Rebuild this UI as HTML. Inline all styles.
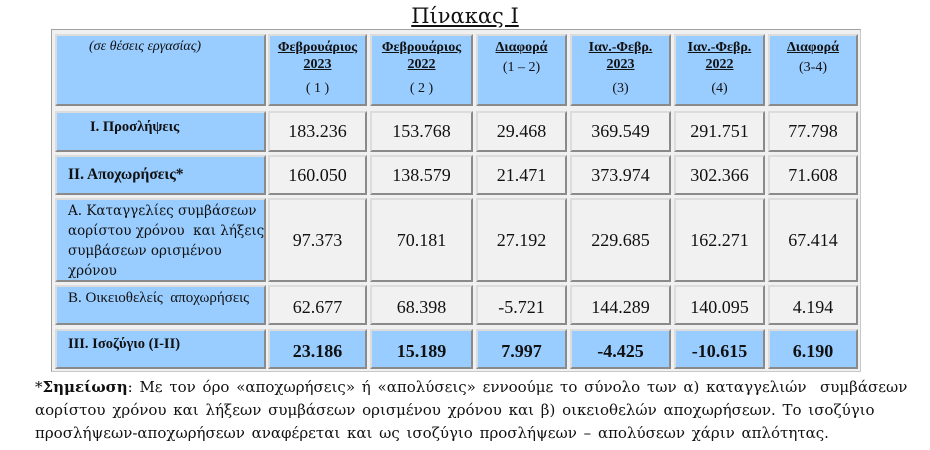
<!DOCTYPE html>
<html><head><meta charset="utf-8"><style>
body{margin:0;width:930px;height:450px;background:#fff;position:relative;overflow:hidden;font-family:"Liberation Serif","DejaVu Serif",serif;color:#111}
.t{position:absolute;left:51px;top:29px;width:810px;height:343px;border:1px solid #a0a0a0;border-right-color:#c8c8c8;border-bottom-color:#c8c8c8;background:#f0f0f0;box-sizing:border-box}
.c{position:absolute;box-sizing:border-box;border:2px solid #9a9a9a;border-top-color:#dcdcdc;border-left-color:#dcdcdc;border-right-color:#8a8a8a;border-bottom-color:#8a8a8a;background:#f1f1f1;text-align:center;font-size:18px}
.b{background:#99ccff}
.h{font-size:14px;font-weight:bold;line-height:17px;padding-top:3px}
.p{font-weight:normal;font-size:14px}
.n{display:flex;align-items:center;justify-content:center}
.l{text-align:left}
</style></head><body>
<div style="position:absolute;left:0;width:930px;top:4px;text-align:center;font-size:21px;font-family:'DejaVu Serif',serif;"><u>Πίνακας Ι</u></div>
<div class="t"></div>
<div class="c b" style="left:55px;top:34px;width:211px;height:72px;font-size:14px;font-style:italic;padding-top:3px;text-align:left;padding-left:32px">(σε θέσεις εργασίας)</div>
<div class="c b h" style="left:268px;top:34px;width:99px;height:72px"><u>Φεβρουάριος<br>2023</u><br><span class="p" style="line-height:32px">( 1 )</span></div>
<div class="c b h" style="left:370px;top:34px;width:103px;height:72px"><u>Φεβρουάριος<br>2022</u><br><span class="p" style="line-height:32px">( 2 )</span></div>
<div class="c b h" style="left:476px;top:34px;width:91px;height:72px"><u>Διαφορά</u><br><span class="p" style="line-height:24px">(1 – 2)</span></div>
<div class="c b h" style="left:570px;top:34px;width:101px;height:72px"><u>Ιαν.-Φεβρ.<br>2023</u><br><span class="p" style="line-height:32px">(3)</span></div>
<div class="c b h" style="left:674px;top:34px;width:91px;height:72px"><u>Ιαν.-Φεβρ.<br>2022</u><br><span class="p" style="line-height:32px">(4)</span></div>
<div class="c b h" style="left:768px;top:34px;width:90px;height:72px"><u>Διαφορά</u><br><span class="p" style="line-height:24px">(3-4)</span></div>
<div class="c b" style="left:55px;top:111px;width:211px;height:41px;font-size:14.5px;font-weight:bold;text-align:left;padding-left:33px;padding-top:6px">Ι. Προσλήψεις</div>
<div class="c b" style="left:55px;top:155px;width:211px;height:40px;font-size:15.5px;font-weight:bold;text-align:left;padding-left:11px;padding-top:9px">ΙΙ. Αποχωρήσεις*</div>
<div class="c b l" style="left:55px;top:198px;width:211px;height:84px;padding-left:11px;padding-top:1px;line-height:20px;font-size:13.5px;font-family:'DejaVu Serif',serif;white-space:nowrap;overflow:hidden">Α. Καταγγελίες συμβάσεων<br>αορίστου χρόνου&nbsp; και λήξεις<br>συμβάσεων ορισμένου<br>χρόνου</div>
<div class="c b l" style="left:55px;top:285px;width:211px;height:40px;padding-left:11px;padding-top:3px;font-size:15px">Β. Οικειοθελείς&nbsp; αποχωρήσεις</div>
<div class="c b" style="left:55px;top:329px;width:211px;height:40px;font-size:14.5px;font-weight:bold;text-align:left;padding-left:11px;padding-top:5px">ΙΙΙ. Ισοζύγιο (Ι-ΙΙ)</div>
<div id="cells"></div>
<script>
var cols=[[268,99],[370,103],[476,91],[570,101],[674,91],[768,90]];
var rows=[[111,41,0,["183.236","153.768","29.468","369.549","291.751","77.798"]],
[155,40,0,["160.050","138.579","21.471","373.974","302.366","71.608"]],
[198,84,0,["97.373","70.181","27.192","229.685","162.271","67.414"]],
[285,40,4,["62.677","68.398","-5.721","144.289","140.095","4.194"]],
[329,40,4,["23.186","15.189","7.997","-4.425","-10.615","6.190"]]];
var h="";rows.forEach(function(r,ri){cols.forEach(function(c,i){
h+='<div class="c n'+(ri==4?' b':'')+'" style="left:'+c[0]+'px;top:'+r[0]+'px;width:'+c[1]+'px;height:'+r[1]+'px;padding-top:'+r[2]+'px;'+(ri==4?'font-weight:bold;':'')+'">'+r[3][i]+'</div>';});});
document.getElementById("cells").innerHTML=h;
</script>
<div style="position:absolute;left:35px;top:376px;width:890px;font-size:15px;line-height:23px;font-family:'DejaVu Serif',serif;word-spacing:2px;white-space:nowrap">*<b>Σημείωση</b>: Με τον όρο «αποχωρήσεις» ή «απολύσεις» εννοούμε το σύνολο των α) καταγγελιών&nbsp; συμβάσεων<br>αορίστου χρόνου και λήξεων συμβάσεων ορισμένου χρόνου και β) οικειοθελών αποχωρήσεων. Το ισοζύγιο<br>προσλήψεων-αποχωρήσεων αναφέρεται και ως ισοζύγιο προσλήψεων – απολύσεων χάριν απλότητας.</div>
</body></html>
